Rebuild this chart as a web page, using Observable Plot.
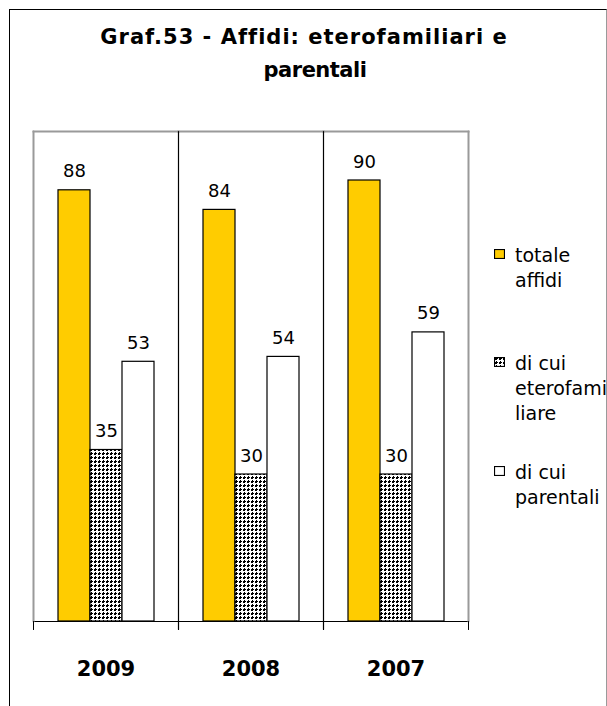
<!DOCTYPE html>
<html>
<head>
<meta charset="utf-8">
<script src="https://cdn.jsdelivr.net/npm/d3@7"></script>
<script src="https://cdn.jsdelivr.net/npm/@observablehq/plot@0.6"></script>
<style>
  html, body { margin: 0; padding: 0; background: #fff; overflow: hidden; }
  #wrap { position: relative; width: 607px; height: 706px; overflow: hidden; font-family: "DejaVu Sans", Verdana, sans-serif; }
  #frame { position: absolute; left: 9px; top: 9px; width: 596px; height: 720px; border-left: 1px solid #000; border-top: 1px solid #000; border-right: 1px solid #9a9a9a; }
  .title { position: absolute; font-weight: bold; font-size: 21px; line-height: 21px; white-space: nowrap; transform: translateX(-50%); color: #000; }
  .leg { position: absolute; left: 515px; font-size: 19px; line-height: 25px; white-space: nowrap; color: #000; }
  .sw { position: absolute; left: 494px; width: 11px; height: 10px; }
  #chart { position: absolute; left: 0; top: 0; }
</style>
</head>
<body>
<div id="wrap">
  <div id="frame"></div>
  <div id="chart"></div>
</div>
<script>
// ---- data ----
const years = ["2009", "2008", "2007"];
const seriesNames = ["totale affidi", "di cui eterofamiliare", "di cui parentali"];
const totale = [88, 84, 90];
const eterofamiliare = [35, 30, 30];
const parentali = [53, 54, 59];
const titleLines = ["Graf.53 - Affidi: eterofamiliari e", "parentali"];
const legendLines = [["totale", "affidi"], ["di cui", "eterofami", "liare"], ["di cui", "parentali"]];

const seriesValues = [totale, eterofamiliare, parentali];
const data = years.flatMap((yr, i) => seriesNames.map((s, k) => ({year: yr, serie: s, value: seriesValues[k][i]})));

// ---- layout ----
const W = 607, H = 706, mL = 32, mR = 138, mT = 131, mB = 85;
const plotH = H - mT - mB;
const tick = 8;
const colors = ["#FFCC00", "url(#dots)", "#FFFFFF"];

const svg = Plot.plot({
  width: W, height: H,
  marginLeft: mL, marginRight: mR, marginTop: mT, marginBottom: mB,
  style: {fontFamily: "DejaVu Sans, Verdana, sans-serif", background: "transparent", overflow: "visible"},
  fx: {domain: years, padding: 0, label: null},
  x: {domain: seriesNames, paddingInner: 0, paddingOuter: 0.71, axis: null},
  y: {domain: [0, 100], axis: null},
  color: {type: "ordinal", domain: seriesNames, range: colors},
  marks: [
    Plot.frame({anchor: "top", stroke: "#9a9a9a", strokeWidth: 2}),
    Plot.barY(data, {fx: "year", x: "serie", y: "value", fill: "serie", stroke: "#000", strokeWidth: 1.2}),
    Plot.ruleY([0], {stroke: "#000", strokeWidth: 1}),
    Plot.vector([years[0]], {fx: d => d, frameAnchor: "top-left", rotate: 180, anchor: "start", length: plotH, stroke: "#9a9a9a", strokeWidth: 2, r: 0}),
    Plot.vector([years[years.length - 1]], {fx: d => d, frameAnchor: "top-right", rotate: 180, anchor: "start", length: plotH, stroke: "#9a9a9a", strokeWidth: 2, r: 0}),
    Plot.vector(years.slice(1), {fx: d => d, frameAnchor: "top-left", rotate: 180, anchor: "start", length: plotH + tick, stroke: "#000", strokeWidth: 1.2, r: 0}),
    Plot.vector([years[0]], {fx: d => d, frameAnchor: "bottom-left", rotate: 180, anchor: "start", length: tick, stroke: "#000", strokeWidth: 1, r: 0}),
    Plot.vector([years[years.length - 1]], {fx: d => d, frameAnchor: "bottom-right", rotate: 180, anchor: "start", length: tick, stroke: "#000", strokeWidth: 1, r: 0}),
    Plot.text(data, {fx: "year", x: "serie", y: "value", text: d => String(d.value), lineAnchor: "bottom", dy: -13, fontSize: 18, fill: "#000"}),
    Plot.axisFx({anchor: "bottom", tickSize: 0, tickPadding: 40, fontSize: 21, fontWeight: "bold", label: null, fill: "#000"})
  ]
});

// pattern for "di cui eterofamiliare": black dots on white
const defs = d3.select(svg).insert("defs", ":first-child");
const pat = defs.append("pattern").attr("id", "dots").attr("patternUnits", "userSpaceOnUse")
  .attr("width", 4).attr("height", 4);
pat.append("rect").attr("width", 4).attr("height", 4).attr("fill", "#fff");
pat.append("path").attr("d", "M1,0h2v1h1v2h-1v1h-2v-1h-1v-2h1z").attr("fill", "#000")
  .attr("transform", "translate(0,0)").attr("shape-rendering", "crispEdges")
  .attr("d", "M1,1h1v-1h1v1h1v1h-1v1h-1v-1h-1z");
pat.append("rect").attr("x", 1).attr("y", 1).attr("width", 3).attr("height", 3).attr("fill", "#000").attr("opacity", 0.0);
pat.append("rect").attr("x", 1).attr("y", 1).attr("width", 2).attr("height", 2).attr("fill", "#000").attr("shape-rendering", "crispEdges");

document.getElementById("chart").appendChild(svg);

// title
const wrap = document.getElementById("wrap");
const titlePos = [{cx: 304, top: 27, ls: "1px"}, {cx: 315, top: 60, ls: "-0.5px"}];
titleLines.forEach((t, i) => {
  const d = document.createElement("div");
  d.className = "title";
  d.textContent = t;
  d.style.left = titlePos[i].cx + "px";
  d.style.top = titlePos[i].top + "px";
  d.style.letterSpacing = titlePos[i].ls;
  wrap.appendChild(d);
});

// legend
const legTops = [243, 351, 460];
legendLines.forEach((lines, k) => {
  const sw = document.createElementNS("http://www.w3.org/2000/svg", "svg");
  sw.setAttribute("class", "sw");
  sw.setAttribute("width", 11); sw.setAttribute("height", 10);
  sw.style.top = (legTops[k] + 6) + "px";
  sw.innerHTML = `<rect x="0.5" y="0.5" width="10" height="9" fill="${colors[k]}" stroke="#000" stroke-width="1.2"/>`;
  wrap.appendChild(sw);
  const d = document.createElement("div");
  d.className = "leg";
  d.style.top = legTops[k] + "px";
  d.innerHTML = lines.join("<br>");
  wrap.appendChild(d);
});
</script>
</body>
</html>
